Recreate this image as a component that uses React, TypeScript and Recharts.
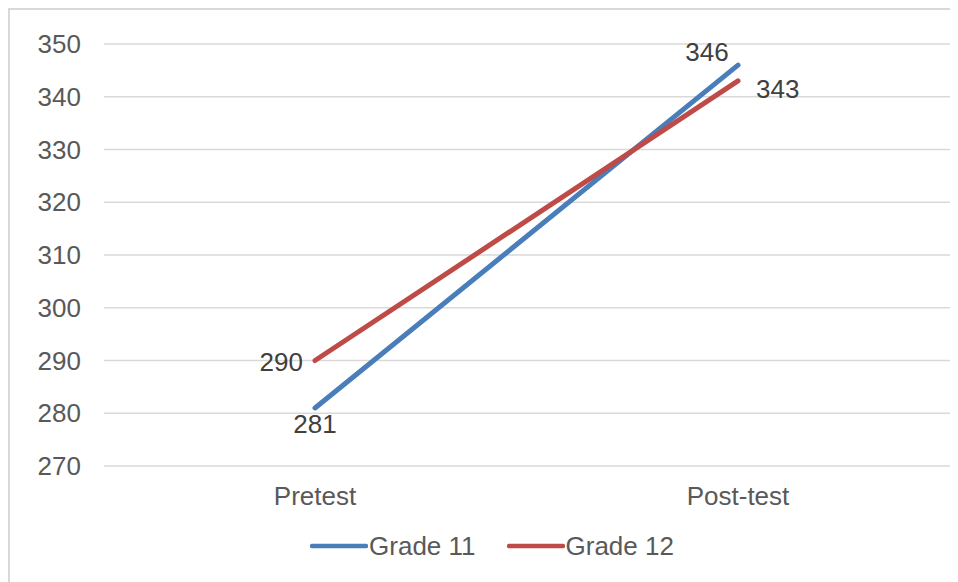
import React from 'react';
import { LineChart, Line, XAxis, YAxis, CartesianGrid, Legend, LabelList } from 'recharts';

const categories = ['Pretest', 'Post-test'];
const grade11 = [281, 346];
const grade12 = [290, 343];
const yTicks = [270, 280, 290, 300, 310, 320, 330, 340, 350];

const BLUE = '#4a7ebb';
const RED = '#be4b48';
const FONT = '"Liberation Sans", Arial, sans-serif';

const data = categories.map((name, i) => ({ name, g11: grade11[i], g12: grade12[i] }));

// label placement per point (offset from the point, anchor)
const g11Pos = [
  { dx: 0, dy: 16, anchor: 'middle' },
  { dx: -31, dy: -13, anchor: 'middle' },
];
const g12Pos = [
  { dx: -12, dy: 1, anchor: 'end' },
  { dx: 18, dy: 8, anchor: 'start' },
];

const makeLabel = (pos: typeof g11Pos) => (props: any) => {
  const { x, y, value, index } = props;
  const p = pos[index];
  return (
    <text
      x={x + p.dx}
      y={y + p.dy}
      textAnchor={p.anchor}
      dominantBaseline="central"
      fill="#404040"
      fontSize={26}
      fontFamily={FONT}
    >
      {value}
    </text>
  );
};

const LegendItems = () => (
  <div style={{ display: 'flex', justifyContent: 'center', alignItems: 'center', height: 40, paddingLeft: 24, fontFamily: FONT, fontSize: 26, color: '#595959' }}>
    {[
      { name: 'Grade 11', color: BLUE },
      { name: 'Grade 12', color: RED },
    ].map((item, i) => (
      <div key={item.name} style={{ display: 'flex', alignItems: 'center', marginLeft: i === 0 ? 0 : 31 }}>
        <svg width={58} height={10}>
          <line x1={2} y1={5} x2={56} y2={5} stroke={item.color} strokeWidth={4.5} strokeLinecap="round" />
        </svg>
        <span style={{ marginLeft: 1 }}>{item.name}</span>
      </div>
    ))}
  </div>
);

export default function App() {
  return (
    <div
      style={{
        width: 950,
        height: 574,
        boxSizing: 'border-box',
        borderTop: '2px solid #d9d9d9',
        borderLeft: '2px solid #d9d9d9',
        background: '#fff',
        overflow: 'hidden',
      }}
    >
      <LineChart width={948} height={572} data={data} margin={{ top: 34, right: 8, left: 0, bottom: 16 }}>
        <CartesianGrid vertical={false} stroke="#d9d9d9" strokeWidth={1.3} />
        <XAxis
          dataKey="name"
          axisLine={false}
          tickLine={false}
          tickSize={0}
          tickMargin={21}
          height={60}
          padding={{ left: 211, right: 212 }}
          tick={{ fill: '#595959', fontSize: 26, fontFamily: FONT }}
        />
        <YAxis
          domain={[270, 350]}
          ticks={yTicks}
          axisLine={false}
          tickLine={false}
          tickSize={0}
          tickMargin={23}
          width={94}
          interval={0}
          tick={{ fill: '#595959', fontSize: 26, fontFamily: FONT }}
        />
        <Legend verticalAlign="bottom" height={40} content={() => <LegendItems />} />
        <Line
          type="linear"
          dataKey="g11"
          name="Grade 11"
          stroke={BLUE}
          strokeWidth={5}
          strokeLinecap="round"
          dot={false}
          activeDot={false}
          isAnimationActive={false}
        >
          <LabelList dataKey="g11" content={makeLabel(g11Pos)} />
        </Line>
        <Line
          type="linear"
          dataKey="g12"
          name="Grade 12"
          stroke={RED}
          strokeWidth={5}
          strokeLinecap="round"
          dot={false}
          activeDot={false}
          isAnimationActive={false}
        >
          <LabelList dataKey="g12" content={makeLabel(g12Pos)} />
        </Line>
      </LineChart>
    </div>
  );
}
